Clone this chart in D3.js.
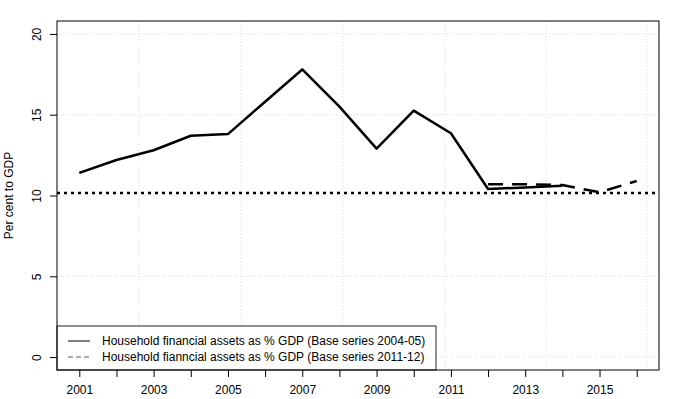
<!DOCTYPE html>
<html>
<head>
<meta charset="utf-8">
<script src="https://cdn.jsdelivr.net/npm/d3@7"></script>
<style>
  body { margin: 0; background: #fff; }
  text { font-family: "Liberation Sans", Arial, sans-serif; }
</style>
</head>
<body>
<svg width="673" height="399"></svg>
<script>
// data
let years2004 = [2001, 2002, 2003, 2004, 2005, 2006, 2007, 2008, 2009, 2010, 2011, 2012, 2013, 2014];
let values2004 = [11.4, 12.2, 12.8, 13.7, 13.8, 15.8, 17.8, 15.5, 12.9, 15.25, 13.85, 10.4, 10.5, 10.6];
let years2011 = [2012, 2013, 2014, 2015, 2016];
let values2011 = [10.7, 10.7, 10.65, 10.2, 10.9];
let refLevel = 10.15;
let xTicks = d3.range(2001, 2017);
let xLabels = [2001, 2003, 2005, 2007, 2009, 2011, 2013, 2015];
let yTicks = [0, 5, 10, 15, 20];
let gridX = [2002.6, 2005.35, 2008.1, 2010.84, 2013.56, 2016.27];
let legendLabels = [
  "Household financial assets as % GDP (Base series 2004-05)",
  "Household fianncial assets as % GDP (Base series 2011-12)"
];

let svg = d3.select("svg");
let pLeft = 57, pRight = 659, pTop = 21, pBottom = 370;

// R style: 4% padding on each side
let xScale = d3.scaleLinear().domain([2000.4, 2016.6]).range([pLeft, pRight]);
let yScale = d3.scaleLinear().domain([-0.8, 20.8]).range([pBottom, pTop]);

// grid
svg.append("g")
  .selectAll("line")
  .data(gridX)
  .enter()
  .append("line")
  .attr("x1", d => xScale(d))
  .attr("x2", d => xScale(d))
  .attr("y1", pTop)
  .attr("y2", pBottom)
  .attr("stroke", "#dcdcdc")
  .attr("stroke-width", 1)
  .attr("stroke-dasharray", "1,2");

svg.append("g")
  .selectAll("line")
  .data(yTicks)
  .enter()
  .append("line")
  .attr("x1", pLeft)
  .attr("x2", pRight)
  .attr("y1", d => yScale(d))
  .attr("y2", d => yScale(d))
  .attr("stroke", "#dcdcdc")
  .attr("stroke-width", 1)
  .attr("stroke-dasharray", "1,2");

// reference level
svg.append("line")
  .attr("x1", pLeft)
  .attr("x2", pRight)
  .attr("y1", yScale(refLevel))
  .attr("y2", yScale(refLevel))
  .attr("stroke", "#000")
  .attr("stroke-width", 2.5)
  .attr("stroke-dasharray", "3,4");

let line = d3.line()
  .x(d => xScale(d[0]))
  .y(d => yScale(d[1]));

svg.append("path")
  .datum(d3.zip(years2004, values2004))
  .attr("d", line)
  .attr("fill", "none")
  .attr("stroke", "#000")
  .attr("stroke-width", 2.5)
  .attr("stroke-linejoin", "round");

svg.append("path")
  .datum(d3.zip(years2011, values2011))
  .attr("d", line)
  .attr("fill", "none")
  .attr("stroke", "#000")
  .attr("stroke-width", 2.5)
  .attr("stroke-dasharray", "15,9");

// axes
let xAxis = svg.append("g")
  .attr("transform", "translate(0," + pBottom + ")")
  .call(d3.axisBottom(xScale).tickValues(xTicks).tickSize(7).tickPadding(8)
    .tickFormat(d => xLabels.includes(d) ? d : ""));
xAxis.select(".domain").remove();
xAxis.selectAll("text").attr("font-size", 12).attr("fill", "#000")
  .attr("font-family", "Liberation Sans, Arial, sans-serif");

let yAxis = svg.append("g")
  .attr("transform", "translate(" + pLeft + ",0)")
  .call(d3.axisLeft(yScale).tickValues(yTicks).tickSize(7).tickPadding(0));
yAxis.select(".domain").remove();
yAxis.selectAll("text")
  .attr("font-size", 12)
  .attr("fill", "#000")
  .attr("font-family", "Liberation Sans, Arial, sans-serif")
  .attr("text-anchor", "middle")
  .attr("dy", null)
  .attr("x", null)
  .attr("transform", "translate(-16,0) rotate(-90)");

svg.append("text")
  .attr("transform", "translate(13," + ((pTop + pBottom) / 2) + ") rotate(-90)")
  .attr("text-anchor", "middle")
  .attr("font-size", 12)
  .text("Per cent to GDP");

// legend
let legend = svg.append("g");
legend.append("rect")
  .attr("x", pLeft)
  .attr("y", 326)
  .attr("width", 379)
  .attr("height", pBottom - 326)
  .attr("fill", "#fff")
  .attr("stroke", "#222")
  .attr("stroke-width", 1);

legendLabels.forEach(function (lab, i) {
  let y = 341 + i * 16;
  legend.append("line")
    .attr("x1", 68).attr("x2", 90)
    .attr("y1", y).attr("y2", y)
    .attr("stroke", i == 1 ? "#555" : "#000")
    .attr("stroke-width", 1)
    .attr("stroke-dasharray", i == 1 ? "5,3" : null);
  legend.append("text")
    .attr("x", 102)
    .attr("y", y + 4)
    .attr("font-size", 12)
    .text(lab);
});

// plot box
svg.append("rect")
  .attr("x", pLeft)
  .attr("y", pTop)
  .attr("width", pRight - pLeft)
  .attr("height", pBottom - pTop)
  .attr("fill", "none")
  .attr("stroke", "#000")
  .attr("stroke-width", 1);
</script>
</body>
</html>
